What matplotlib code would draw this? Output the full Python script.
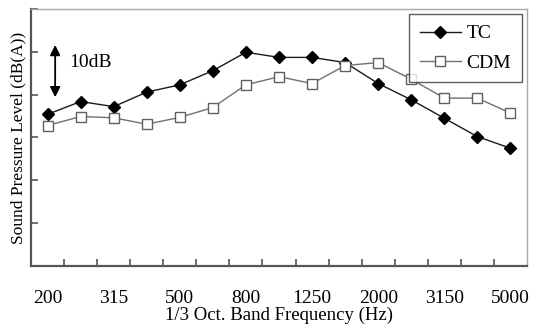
import matplotlib
matplotlib.use("Agg")
import matplotlib.pyplot as plt

plt.rcParams["font.family"] = ["Liberation Serif", "DejaVu Serif"]

# 1/3 octave band centre frequencies (Hz)
bands = ["200", "250", "315", "400", "500", "630", "800", "1000",
         "1250", "1600", "2000", "2500", "3150", "4000", "5000"]

# sound pressure level, dB(A) relative to the bottom of the axis
tc = [35.4, 38.4, 37.2, 40.6, 42.3, 45.6, 49.9, 48.7,
      48.7, 47.5, 42.6, 38.8, 34.5, 30.2, 27.5]
cdm = [32.8, 34.9, 34.6, 33.1, 34.7, 37.0, 42.3, 44.2,
       42.6, 46.8, 47.5, 43.6, 39.2, 39.2, 35.7]

fig = plt.figure(figsize=(5.33, 3.31), dpi=100)
ax = fig.add_axes([0.0582, 0.1964, 0.9305, 0.7764])

x = list(range(len(bands)))
ax.plot(x, tc, color="#1a1a1a", lw=1.0, marker="D", ms=6.5,
        mfc="black", mec="black", label="TC")
ax.plot(x, cdm, color="#707070", lw=1.0, marker="s", ms=7.5,
        mfc="white", mec="#606060", mew=1.0, label="CDM")

ax.set_xlim(-0.5, len(bands) - 0.5)
ax.set_ylim(0, 60)

# labels on every other band, tick marks between bands
ax.set_xticks(x[::2])
ax.set_xticklabels(bands[::2], fontsize=14)
ax.set_xticks([i + 0.5 for i in x[:-1]], minor=True)
ax.tick_params(axis="x", which="major", length=0, pad=17)
ax.tick_params(axis="x", which="minor", direction="in", length=5,
               width=1.2, color="#555555")
ax.set_yticks(range(0, 61, 10))
ax.set_yticklabels([])
ax.tick_params(axis="y", direction="in", length=5, width=1.2,
               color="#555555")

for side in ("left", "bottom"):
    ax.spines[side].set_color("#555555")
    ax.spines[side].set_linewidth(1.6)
for side in ("top", "right"):
    ax.spines[side].set_color("#a8a8a8")
    ax.spines[side].set_linewidth(1.0)

ax.set_xlabel("1/3 Oct. Band Frequency (Hz)", fontsize=13.5, labelpad=0)
ax.set_ylabel("Sound Pressure Level (dB(A))", fontsize=12.5, labelpad=0)

# 10 dB scale marker
ax.annotate("", xy=(0.23, 51.6), xytext=(0.23, 39.4),
            arrowprops=dict(arrowstyle="<|-|>", color="black", lw=1.3,
                            mutation_scale=15, shrinkA=0, shrinkB=0))
ax.text(0.65, 47.4, "10dB", fontsize=14, va="center", ha="left")

leg = ax.legend(loc="upper right", bbox_to_anchor=(0.99, 0.98),
                borderaxespad=0, fontsize=14, frameon=True, fancybox=False,
                handlelength=2.1, handletextpad=0.3, borderpad=0.55,
                labelspacing=0.6)
leg.get_frame().set_edgecolor("#333333")
leg.get_frame().set_linewidth(1.0)

fig.savefig("out.png", dpi=100)
